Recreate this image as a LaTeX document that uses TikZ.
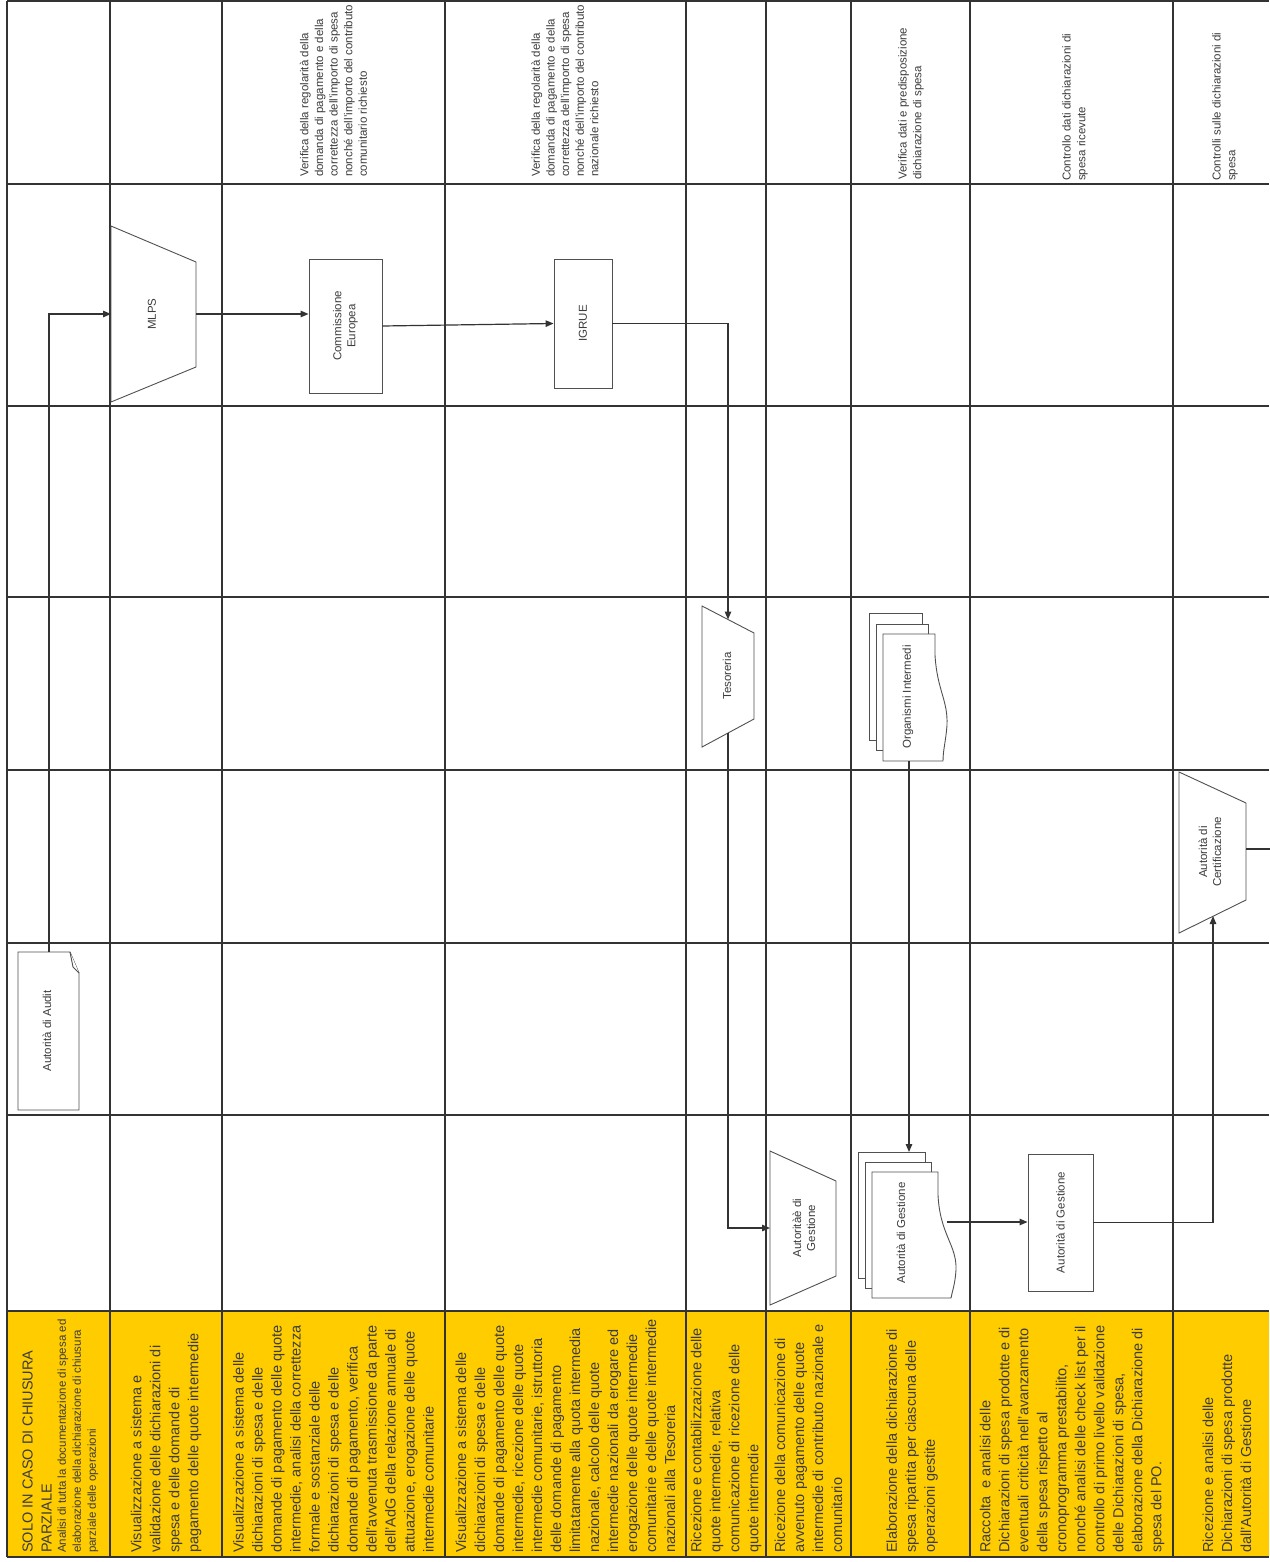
\documentclass[tikz,border=0pt]{standalone}
\usepackage{fontspec}
\setmainfont{Liberation Sans}
\usetikzlibrary{arrows.meta}
\definecolor{gridc}{HTML}{333333}
\definecolor{shapec}{HTML}{505050}
\definecolor{connc}{HTML}{333333}
\definecolor{txtc}{HTML}{3C3C3C}
\definecolor{yell}{HTML}{FFCC00}
\tikzset{
  gridline/.style={draw=gridc, line width=2pt},
  shp/.style={draw=shapec, line width=0.9pt, fill=white},
  conn/.style={draw=connc, line width=1.2pt},
  arr/.style={conn, -{Triangle[length=8pt,width=6.5pt]}},
  lbl/.style={rotate=90, font=\fontsize{11.5}{14}\selectfont, align=center, text=txtc, inner sep=0pt},
  ytxt/.style={rotate=90, anchor=west, align=left, font=\fontsize{14.5}{19}\selectfont, inner sep=0pt, text=txtc},
  ttxt/.style={rotate=90, anchor=west, align=left, font=\fontsize{11.5}{14.6}\selectfont, inner sep=0pt, text=txtc},
  boxnode/.style={draw=shapec, line width=0.9pt, fill=white, inner sep=0pt}
}
\begin{document}
\begin{tikzpicture}[x=1pt,y=-1pt]
\useasboundingbox (0,0) rectangle (1269,1562);
\fill[white] (0,0) rectangle (1269,1562);
% yellow row
\fill[yell] (7,1311) rectangle (1269,1557);
% grid
\foreach \gx in {7,110,222,445,686,766,851,970,1173} {\draw[gridline] (\gx,1) -- (\gx,1557);}
\foreach \gy in {1,184,406,597,770,943,1115,1311,1557} {\draw[gridline] (7,\gy) -- (1269,\gy);}

% ---------- top texts ----------
\node[ttxt] (t3) at (333.5,177) {Verifica della regolarità della\\domanda di pagamento e della\\correttezza dell'importo di spesa\\nonché dell'importo del contributo\\comunitario richiesto};
\node[ttxt] (t4) at (565,177) {Verifica della regolarità della\\domanda di pagamento e della\\correttezza dell'importo di spesa\\nonché dell'importo del contributo\\nazionale richiesto};
\node[ttxt] (t7) at (911,180) {Verifica dati e predisposizione\\dichiarazione di spesa};
\node[ttxt] (t8) at (1075,181) {Controllo dati dichiarazioni di\\spesa ricevute};
\node[ttxt] (t9) at (1225,181) {Controlli sulle dichiarazioni di\\spesa};

% ---------- yellow texts ----------
\node[ytxt] (y1a) at (37,1553) {SOLO IN CASO DI CHIUSURA\\PARZIALE};
\node[ttxt, font=\fontsize{11.5}{15}\selectfont] (y1b) at (78,1553) {Analisi di tutta la documentazione di spesa ed\\elaborazione della dichiarazione di chiusura\\parziale delle operazioni};
\node[ytxt] (y2) at (166,1553) {Visualizzazione a sistema e\\validazione delle dichiarazioni di\\spesa e delle domande di\\pagamento delle quote intermedie};
\node[ytxt] (y3) at (333.5,1553) {Visualizzazione a sistema delle\\dichiarazioni di spesa e delle\\domande di pagamento delle quote\\intermedie, analisi della correttezza\\formale e sostanziale delle\\dichiarazioni di spesa e delle\\domande di pagamento, verifica\\dell'avvenuta trasmissione da parte\\dell'AdG della relazione annuale di\\attuazione, erogazione delle quote\\intermedie comunitarie};
\node[ytxt] (y4) at (565.5,1553) {Visualizzazione a sistema delle\\dichiarazioni di spesa e delle\\domande di pagamento delle quote\\intermedie, ricezione delle quote\\intermedie comunitarie, istruttoria\\delle domande di pagamento\\limitatamente alla quota intermedia\\nazionale, calcolo delle quote\\intermedie nazionali da erogare ed\\erogazione delle quote intermedie\\comunitarie e delle quote intermedie\\nazionali alla Tesoreria};
\node[ytxt] (y5) at (726,1553) {Ricezione e contabilizzazione delle\\quote intermedie, relativa\\comunicazione di ricezione delle\\quote intermedie};
\node[ytxt] (y6) at (808.5,1553) {Ricezione della comunicazione di\\avvenuto pagamento delle quote\\intermedie di contributo nazionale e\\comunitario};
\node[ytxt] (y7) at (912,1553) {Elaborazione della dichiarazione di\\spesa ripartita per ciascuna delle\\operazioni gestite};
\node[ytxt] (y8) at (1072,1553) {Raccolta\ \ e analisi delle\\Dichiarazioni di spesa prodotte e di\\eventuali criticità nell'avanzamento\\della spesa rispetto al\\cronoprogramma prestabilito,\\nonché analisi delle check list per il\\controllo di primo livello validazione\\delle Dichiarazioni di spesa,\\elaborazione della Dichiarazione di\\spesa del PO.};
\node[ytxt] (y9) at (1227,1553) {Ricezione e analisi delle\\Dichiarazioni di spesa prodotte\\dall'Autorità di Gestione};

% ---------- shapes ----------
% MLPS trapezoid
\draw[shp] (111,226) -- (196,262) -- (196,367) -- (111,402) -- cycle;
\node[lbl] (mlps) at (152,314) {MLPS};
\coordinate (mlpsL) at (111,314);
\coordinate (mlpsR) at (196,314);

% Commissione Europea
\node[boxnode, minimum width=73pt, minimum height=134pt] (ce) at (345.5,326) {};
\node[lbl] (cet) at (ce) {Commissione\\Europea};

% IGRUE
\node[boxnode, minimum width=58pt, minimum height=129pt] (igrue) at (583,323.5) {};
\node[lbl] (igt) at (igrue) {IGRUE};

% Tesoreria trapezoid
\draw[shp] (702,606) -- (754,633) -- (754,719) -- (702,747) -- cycle;
\node[lbl] (tes) at (727,676) {Tesoreria};
\coordinate (tesTop) at (728,619.5);
\coordinate (tesBot) at (728,733);

% Organismi Intermedi multidocument
\draw[shp] (869,613) rectangle (922,740);
\draw[shp] (876,624) rectangle (928,750);
\draw[shp] (883,634) -- (935,634) -- (935,655) .. controls (937,690) and (948,700) .. (947,725) .. controls (946,740) and (943,750) .. (943,761) -- (883,761) -- cycle;
\node[lbl] (oi) at (908,697) {Organismi Intermedi};
\coordinate (oiBot) at (909,761);

% Autorita di Certificazione trapezoid
\draw[shp] (1179,772) -- (1246,803) -- (1246,900) -- (1179,933) -- cycle;
\node[lbl] (adc) at (1210,852) {Autorità di\\Certificazione};
\coordinate (adcBot) at (1213,916);
\coordinate (adcR) at (1246,849);
\coordinate (offR) at (1270,849);

% Autorita di Audit document
\draw[shp] (18,952) -- (70,952) -- (79,973) -- (79,1110) -- (18,1110) -- cycle;
\draw[shp] (70,952) -- (73,967) -- (79,973);
\node[lbl] (aud) at (47,1031) {Autorità di Audit};
\coordinate (audTop) at (49,952);

% Autorita di Gestione trapezoid (left)
\draw[shp] (770,1151) -- (836,1181) -- (836,1276) -- (770,1305) -- cycle;
\node[lbl] (adg1) at (804,1228) {Autoritàè di\\Gestione};
\coordinate (adg1L) at (770,1228);

% Autorita di Gestione multidocument
\draw[shp] (858,1152) rectangle (925,1278);
\draw[shp] (865,1162) rectangle (931,1288);
\draw[shp] (872,1172) -- (938,1172) -- (938,1195) .. controls (940,1235) and (957,1245) .. (956,1270) .. controls (955,1285) and (952,1292) .. (951,1298) -- (872,1298) -- cycle;
\node[lbl] (adg2) at (901,1233) {Autorità di Gestione};
\coordinate (adg2Top) at (909,1152);
\coordinate (adg2R) at (947,1222);

% Autorita di Gestione rect
\node[boxnode, minimum width=65pt, minimum height=137pt] (adg3) at (1060.5,1222.5) {};
\node[lbl] (adg3t) at (adg3) {Autorità di Gestione};

% ---------- connectors ----------
\draw[arr] (audTop) |- (mlpsL);
\draw[arr] (mlpsR) -- (mlpsR -| ce.west);
\draw[arr] (ce.east) -- (igrue.west);
\draw[arr] (igrue.east) -| (tesTop);
\draw[arr] (tesBot) |- (adg1L);
\draw[arr] (oiBot) -- (adg2Top);
\draw[arr] (adg2R) -- (adg2R -| adg3.west);
\draw[arr] (adg3.east) -| (adcBot);
\draw[conn] (adcR) -- (offR);
\end{tikzpicture}
\end{document}
